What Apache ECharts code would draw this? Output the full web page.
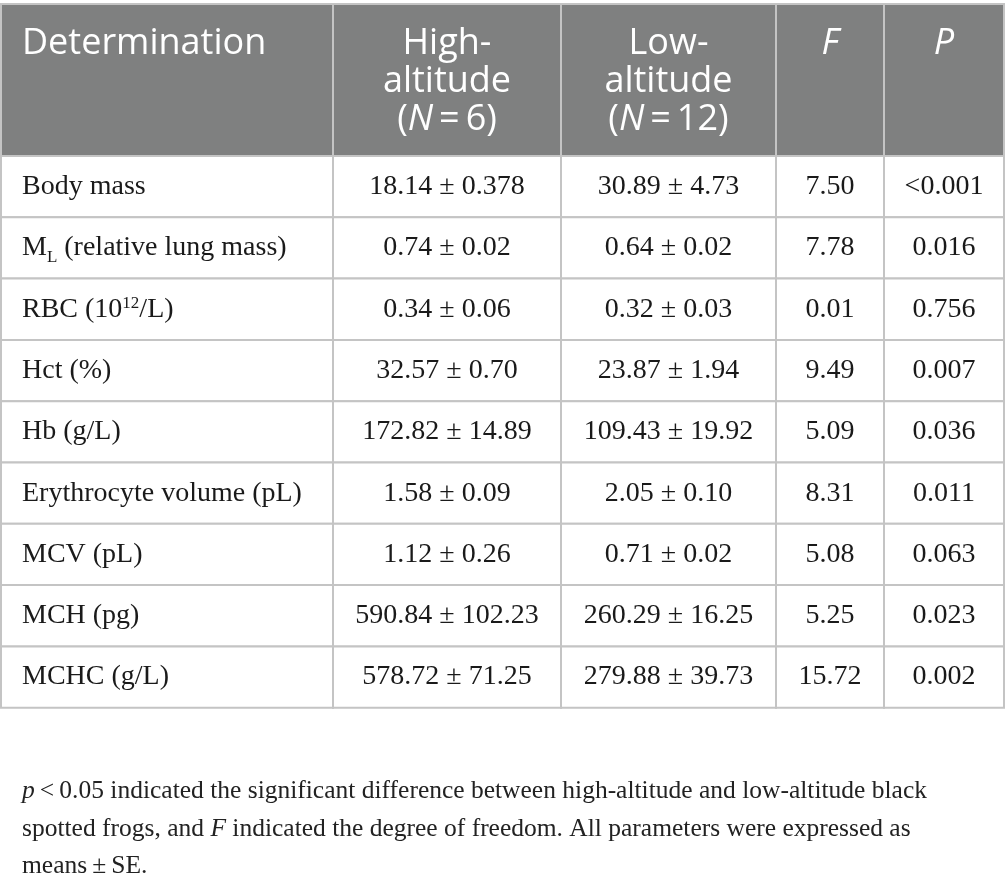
<!DOCTYPE html>
<html>
<head>
<meta charset="utf-8">
<script src="https://cdn.jsdelivr.net/npm/echarts@6/dist/echarts.min.js"></script>
<style>
  html, body { margin: 0; padding: 0; background: #fff; }
  #main { width: 1005px; height: 886px; }
</style>
</head>
<body>
<div id="main"></div>
<script>
// table content
var headers = ['Determination', 'High-\naltitude\n({i|N}\u2009=\u20096)', 'Low-\naltitude\n({i|N}\u2009=\u200912)', '{i|F}', '{i|P}'];
var determinations = ['Body mass', 'M{sub|L} (relative lung mass)', 'RBC (10{sup|12}/L)', 'Hct (%)', 'Hb (g/L)',
  'Erythrocyte volume (pL)', 'MCV (pL)', 'MCH (pg)', 'MCHC (g/L)'];
var highMean = ['18.14', '0.74', '0.34', '32.57', '172.82', '1.58', '1.12', '590.84', '578.72'];
var highSE = ['0.378', '0.02', '0.06', '0.70', '14.89', '0.09', '0.26', '102.23', '71.25'];
var lowMean = ['30.89', '0.64', '0.32', '23.87', '109.43', '2.05', '0.71', '260.29', '279.88'];
var lowSE = ['4.73', '0.02', '0.03', '1.94', '19.92', '0.10', '0.02', '16.25', '39.73'];
var fValues = ['7.50', '7.78', '0.01', '9.49', '5.09', '8.31', '5.08', '5.25', '15.72'];
var pValues = ['<0.001', '0.016', '0.756', '0.007', '0.036', '0.011', '0.063', '0.023', '0.002'];
var footnote = '{i|p}\u2009<\u20090.05 indicated the significant difference between high-altitude and low-altitude black\n' +
  'spotted frogs, and {i|F} indicated the degree of freedom. All parameters were expressed as\n' +
  'means\u2009±\u2009SE.';

// layout (axis units == px)
var colEdges = [0, 332, 560, 775, 883, 1003];
var headH = 152, rowH = 61.3;
function rowTop(r) { return r === 0 ? 0 : headH + (r - 1) * rowH; }
function rowBottom(r) { return r === 0 ? headH : headH + r * rowH; }

var cells = [];
var texts = [];
headers.forEach(function (h, c) { cells.push([c, 0]); texts.push(h); });
determinations.forEach(function (d, i) {
  var row = [d, highMean[i] + ' ± ' + highSE[i], lowMean[i] + ' ± ' + lowSE[i], fValues[i], pValues[i]];
  row.forEach(function (t, c) { cells.push([c, i + 1]); texts.push(t); });
});

var serif = 'Liberation Serif';
var sans = 'Open Sans';
var headRich = {
  i: { fontFamily: sans, fontSize: 36, fontStyle: 'italic', fill: '#fff' }
};
var bodyRich = {
  sub: { fontFamily: serif, fontSize: 17, fill: '#1a1a1a', verticalAlign: 'bottom', padding: [0, 0, -4, 0] },
  sup: { fontFamily: serif, fontSize: 17, fill: '#1a1a1a', verticalAlign: 'top' }
};

var myChart = echarts.init(document.getElementById('main'));
var option = {
  animation: false,
  title: {
    left: 22,
    top: 773,
    padding: 0,
    text: footnote,
    textStyle: {
      fontFamily: serif,
      fontSize: 25.5,
      fontWeight: 'normal',
      color: '#222',
      lineHeight: 37.5,
      rich: {
        i: { fontFamily: serif, fontSize: 25.5, fontStyle: 'italic', color: '#222', lineHeight: 37.5 }
      }
    }
  },
  grid: { left: 1, top: 4, width: 1003, height: headH + 9 * rowH },
  xAxis: { type: 'value', min: 0, max: 1003, show: false },
  yAxis: { type: 'value', min: 0, max: headH + 9 * rowH, inverse: true, show: false },
  series: [{
    type: 'custom',
    coordinateSystem: 'cartesian2d',
    data: cells,
    renderItem: function (params, api) {
      var c = api.value(0), r = api.value(1);
      var p0 = api.coord([colEdges[c], rowTop(r)]);
      var p1 = api.coord([colEdges[c + 1], rowBottom(r)]);
      var head = r === 0;
      var tx = c === 0 ? p0[0] + 21 : (p0[0] + p1[0]) / 2;
      var text = {
        type: 'text',
        style: head ? {
          text: texts[params.dataIndex],
          x: tx, y: p0[1] + 21,
          fontFamily: sans, fontSize: 36, fill: '#fff',
          align: c === 0 ? 'left' : 'center', verticalAlign: 'top',
          lineHeight: 38, rich: headRich
        } : {
          text: texts[params.dataIndex],
          x: tx, y: (p0[1] + p1[1]) / 2,
          fontFamily: serif, fontSize: 28, fill: '#1a1a1a',
          align: c === 0 ? 'left' : 'center', verticalAlign: 'middle',
          rich: bodyRich
        }
      };
      return {
        type: 'group',
        children: [{
          type: 'rect',
          shape: { x: p0[0], y: p0[1], width: p1[0] - p0[0], height: p1[1] - p0[1] },
          style: { fill: head ? '#7f8080' : '#fff', stroke: '#c4c4c4', lineWidth: 2 }
        }, text]
      };
    }
  }]
};
myChart.setOption(option);
</script>
</body>
</html>
